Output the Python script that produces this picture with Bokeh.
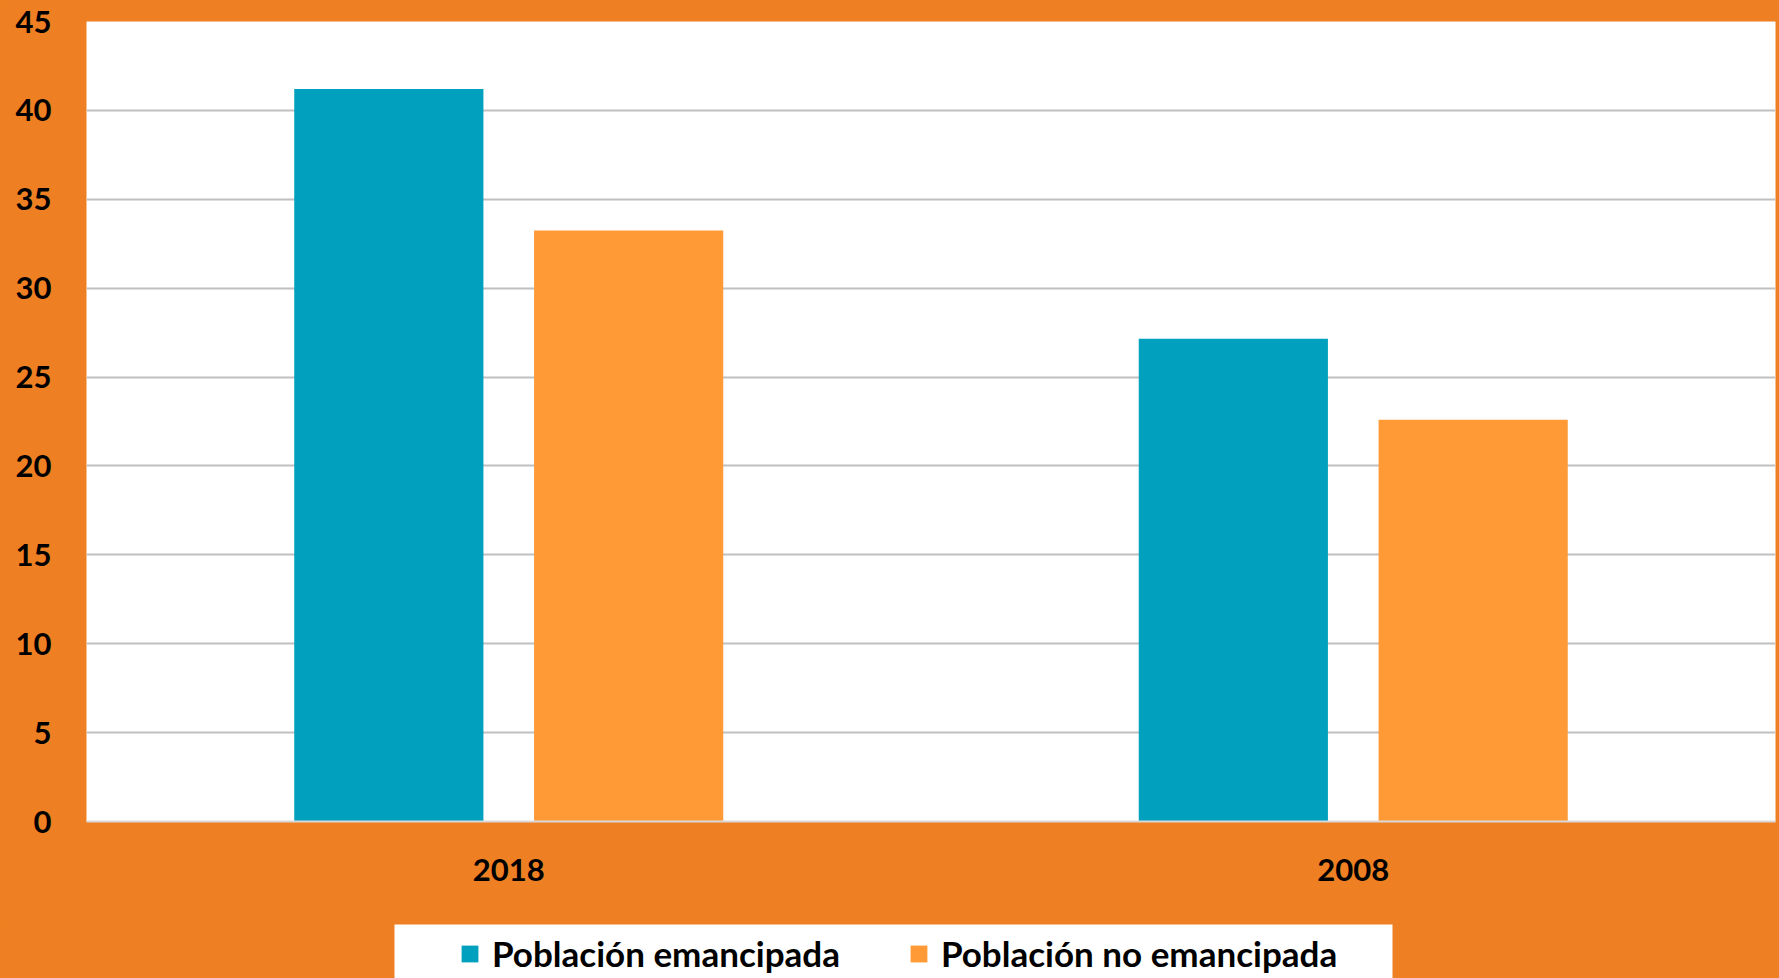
from bokeh.plotting import figure
from bokeh.models import FactorRange, FixedTicker, Legend, LegendItem, ColumnDataSource, Range1d
from bokeh.transform import dodge
from bokeh.embed import file_html
from bokeh.resources import INLINE

years = ["2018", "2008"]
emancipada = [41.2, 27.15]
no_emancipada = [33.25, 22.6]
series_names = ["Población emancipada", "Población no emancipada"]
y_ticks = [0, 5, 10, 15, 20, 25, 30, 35, 40, 45]

ORANGE_BG = "#EE7F22"
BLUE = "#00A0BE"
ORANGE_BAR = "#FF9A36"
FONT = "Lato"

source = ColumnDataSource(dict(years=years, emancipada=emancipada, no_emancipada=no_emancipada))
x_range = FactorRange(*years, range_padding=0)

p = figure(x_range=x_range, y_range=(0, 45),
           width=1779, height=924, output_backend="svg", toolbar_location=None,
           min_border_left=86, min_border_top=21, min_border_right=4, min_border_bottom=103)
p.background_fill_color = "white"
p.border_fill_color = ORANGE_BG
p.outline_line_color = None

p.vbar(x=dodge("years", -0.142, range=x_range), top="emancipada", width=0.224,
       source=source, fill_color=BLUE, line_color=None)
p.vbar(x=dodge("years", 0.142, range=x_range), top="no_emancipada", width=0.224,
       source=source, fill_color=ORANGE_BAR, line_color=None)

p.yaxis.ticker = FixedTicker(ticks=y_ticks)
p.ygrid.ticker = FixedTicker(ticks=y_ticks)
p.ygrid.grid_line_color = "#C0C0C0"
p.ygrid.grid_line_width = 2
p.xgrid.grid_line_color = None

for ax in (p.xaxis, p.yaxis):
    ax.major_tick_line_color = None
    ax.minor_tick_line_color = None
    ax.major_tick_out = 0
    ax.major_tick_in = 0
    ax.major_label_text_font = FONT
    ax.major_label_text_font_style = "bold"
    ax.major_label_text_font_size = "31px"
    ax.major_label_text_color = "black"
p.yaxis.axis_line_color = None
p.xaxis.axis_line_color = "#D9D9D9"
p.xaxis.axis_line_width = 2
p.yaxis.major_label_standoff = 35
p.xaxis.major_label_standoff = 37

# legend strip below the chart: its white frame is the legend box
# (its bars lie outside its y-range; only the legend shows)
lg = figure(width=1779, height=54, output_backend="svg", toolbar_location=None,
            x_range=x_range, y_range=Range1d(50, 51),
            min_border_left=394, min_border_right=387, min_border_top=0, min_border_bottom=0)
lg.background_fill_color = "white"
lg.border_fill_color = ORANGE_BG
lg.outline_line_color = None
lg.axis.visible = False
lg.grid.visible = False
d1 = lg.vbar(x=dodge("years", -0.142, range=x_range), top="emancipada", width=0.224,
             source=source, fill_color=BLUE, line_color=None)
d2 = lg.vbar(x=dodge("years", 0.142, range=x_range), top="no_emancipada", width=0.224,
             source=source, fill_color=ORANGE_BAR, line_color=None)

legend = Legend(items=[LegendItem(label=series_names[0], renderers=[d1]),
                       LegendItem(label=series_names[1], renderers=[d2])],
                orientation="horizontal", location=(65, 4))
legend.background_fill_alpha = 0
legend.border_line_color = None
legend.label_text_font = FONT
legend.label_text_font_style = "bold"
legend.label_text_font_size = "35px"
legend.label_text_color = "black"
legend.glyph_width = 21
legend.glyph_height = 21
legend.label_standoff = 12
legend.spacing = 68
legend.padding = 0
legend.margin = 0
lg.add_layout(legend, "center")

html = file_html([p, lg], INLINE)
html = html.replace("<head>", "<head><style>html,body{background:%s;overflow:hidden;}</style>" % ORANGE_BG, 1)
open("out.html", "w").write(html)
